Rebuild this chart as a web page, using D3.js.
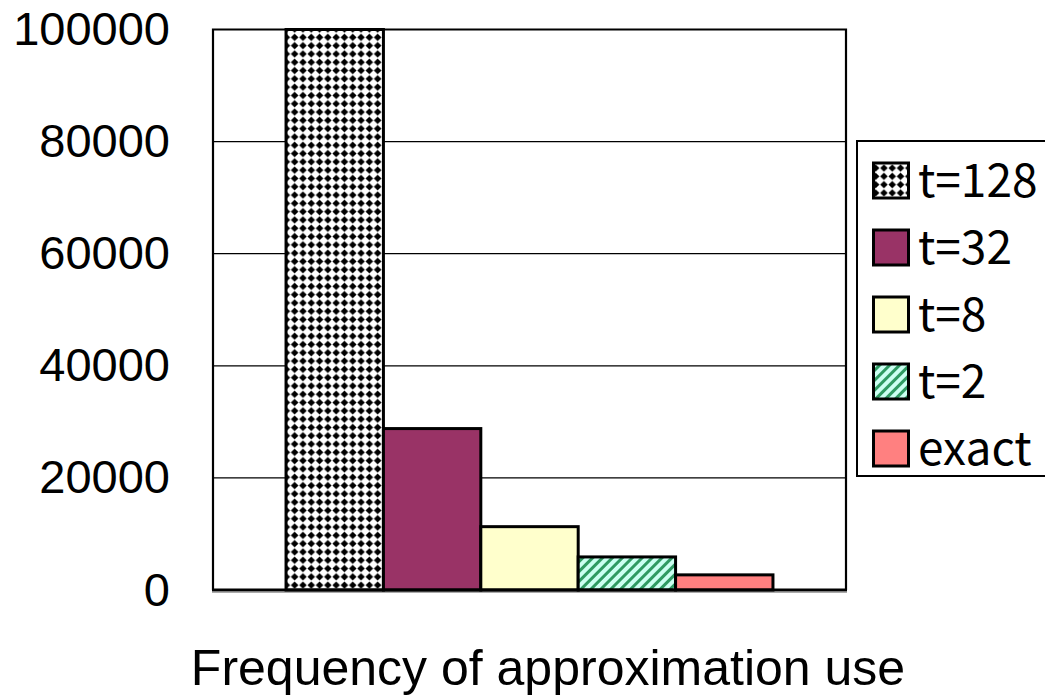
<!DOCTYPE html>
<html>
<head>
<meta charset="utf-8">
<script src="https://cdn.jsdelivr.net/npm/d3@7"></script>
<style>
  html, body { margin: 0; padding: 0; background: #fff; }
  svg { display: block; }
</style>
</head>
<body>
<svg id="chart" width="1045" height="695"></svg>
<script>
// Series shown as adjacent bars within one category
const seriesNames = ["t=128", "t=32", "t=8", "t=2", "exact"];
const seriesValues = [100000, 28800, 11300, 5900, 2700];
const yTickValues = [0, 20000, 40000, 60000, 80000, 100000];
const xTitle = "Frequency of approximation use";

const W = 1045, H = 695;
const plot = { left: 213, right: 846, top: 29.5, bottom: 590 };

const svg = d3.select("#chart");
const defs = svg.append("defs");

// Dotted fill for t=128
const dots = defs.append("pattern")
  .attr("id", "pat-dots").attr("patternUnits", "userSpaceOnUse")
  .attr("width", 8.3).attr("height", 8.3);
dots.append("rect").attr("width", 8.3).attr("height", 8.3).attr("fill", "#fff");
dots.append("path").attr("d", "M4.15,0.4 L7.9,4.15 L4.15,7.9 L0.4,4.15 Z").attr("fill", "#000");

// Diagonal stripe fill for t=2
const stripes = defs.append("pattern")
  .attr("id", "pat-stripes").attr("patternUnits", "userSpaceOnUse")
  .attr("width", 7).attr("height", 7)
  .attr("patternTransform", "rotate(45)");
stripes.append("rect").attr("width", 7).attr("height", 7).attr("fill", "#ccfff2");
stripes.append("rect").attr("width", 3).attr("height", 7).attr("fill", "#2f9a62");

const fills = ["url(#pat-dots)", "#993366", "#ffffcc", "url(#pat-stripes)", "#ff8080"];

const x = d3.scaleBand()
  .domain(seriesNames)
  .range([plot.left, plot.right])
  .paddingInner(0)
  .paddingOuter(0.75);

const y = d3.scaleLinear()
  .domain([0, 100000])
  .range([plot.bottom, plot.top]);

// Horizontal gridlines
svg.append("g")
  .selectAll("line")
  .data(yTickValues.filter(v => v > 0 && v < 100000))
  .join("line")
  .attr("x1", plot.left).attr("x2", plot.right)
  .attr("y1", d => y(d)).attr("y2", d => y(d))
  .attr("stroke", "#000").attr("stroke-width", 1.2);

// Bars
svg.append("g")
  .selectAll("rect")
  .data(seriesNames.map((n, i) => ({ name: n, value: seriesValues[i], fill: fills[i] })))
  .join("rect")
  .attr("x", d => x(d.name))
  .attr("y", d => y(d.value))
  .attr("width", x.bandwidth())
  .attr("height", d => y(0) - y(d.value))
  .attr("fill", d => d.fill)
  .attr("stroke", "#000")
  .attr("stroke-width", 3);

// Plot frame: left, top, right
svg.append("path")
  .attr("d", `M${plot.left},${plot.bottom} V${plot.top} H${plot.right} V${plot.bottom}`)
  .attr("fill", "none").attr("stroke", "#000").attr("stroke-width", 2.2);

// Category axis line
svg.append("line")
  .attr("x1", plot.left - 1).attr("x2", plot.right + 1)
  .attr("y1", plot.bottom + 2.5).attr("y2", plot.bottom + 2.5)
  .attr("stroke", "#aaa").attr("stroke-width", 1);
svg.append("line")
  .attr("x1", plot.left - 1).attr("x2", plot.right + 1)
  .attr("y1", plot.bottom).attr("y2", plot.bottom)
  .attr("stroke", "#000").attr("stroke-width", 3.2);

// Value axis labels
const yAxis = d3.axisLeft(y).tickValues(yTickValues).tickSize(0).tickPadding(0)
  .tickFormat(d3.format("d"));
const yg = svg.append("g")
  .attr("transform", `translate(${plot.left - 43},0)`)
  .call(yAxis);
yg.select(".domain").remove();
yg.selectAll("text")
  .attr("font-family", "'Liberation Sans', Arial, sans-serif")
  .attr("font-size", 47)
  .attr("fill", "#000");

// Axis title
svg.append("text")
  .attr("x", 548).attr("y", 685)
  .attr("text-anchor", "middle")
  .attr("font-family", "'Liberation Sans', Arial, sans-serif")
  .attr("font-size", 50)
  .attr("fill", "#000")
  .text(xTitle);

// Legend
const legend = svg.append("g");
legend.append("rect")
  .attr("x", 857).attr("y", 141)
  .attr("width", 230).attr("height", 335)
  .attr("fill", "#fff").attr("stroke", "#000").attr("stroke-width", 2);

const ly = d3.scalePoint().domain(seriesNames).range([180.5, 448.5]);
const rows = legend.selectAll("g.row")
  .data(seriesNames.map((n, i) => ({ name: n, fill: fills[i] })))
  .join("g").attr("class", "row")
  .attr("transform", d => `translate(0,${ly(d.name)})`);
rows.append("rect")
  .attr("x", 873.5).attr("y", -17.5)
  .attr("width", 35).attr("height", 35)
  .attr("fill", d => d.fill)
  .attr("stroke", "#000").attr("stroke-width", 3);
rows.append("text")
  .attr("x", 918).attr("y", 0)
  .attr("dy", "0.36em")
  .attr("font-family", "'Noto Sans CJK JP', 'Noto Sans', sans-serif")
  .attr("font-size", 46)
  .attr("fill", "#000")
  .text(d => d.name);
</script>
</body>
</html>
